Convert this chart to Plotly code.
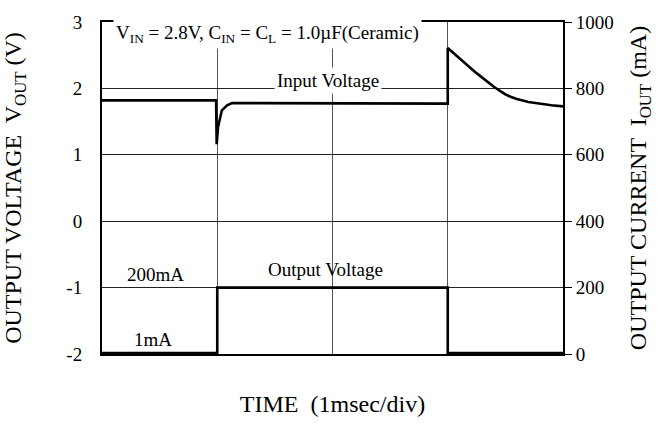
import plotly.graph_objects as go

# Upper trace (left axis, V)
vin_t = [0.0, 0.99, 0.995, 1.007, 1.04, 1.085, 1.128, 1.2, 2.0, 3.0, 3.0, 3.05, 3.1, 3.15, 3.2, 3.25, 3.3,
         3.35, 3.4, 3.45, 3.5, 3.55, 3.6, 3.7, 3.8, 3.9, 4.0]
vin_v = [1.82, 1.82, 1.16, 1.42, 1.67, 1.746, 1.78, 1.78, 1.78, 1.77, 2.61, 2.53, 2.455, 2.38, 2.305, 2.23, 2.16,
         2.09, 2.025, 1.965, 1.91, 1.87, 1.84, 1.795, 1.765, 1.745, 1.73]

# Load current (right axis, mA)
iout_t = [0.0, 1.0, 1.0, 3.0, 3.0, 4.0]
iout_ma = [3, 3, 200, 200, 3, 3]

left_ticks = [-2, -1, 0, 1, 2, 3]
left_labels = ["-2", "-1", "0", "1", "2", "3"]
right_ticks = [0, 200, 400, 600, 800, 1000]
right_labels = ["0", "200", "400", "600", "800", "1000"]
x_grid = [0, 1, 2, 3, 4]

FONT = "Liberation Serif, Times New Roman, serif"

fig = go.Figure()
fig.add_trace(go.Scatter(x=vin_t, y=vin_v, mode="lines",
                         line=dict(color="black", width=2.6), yaxis="y", showlegend=False))
fig.add_trace(go.Scatter(x=iout_t, y=iout_ma, mode="lines",
                         line=dict(color="black", width=2.6), yaxis="y2", showlegend=False))

fig.update_layout(
    width=661, height=424,
    margin=dict(l=102, r=98, t=15, b=70),
    paper_bgcolor="white", plot_bgcolor="white",
    font=dict(family=FONT, size=19, color="black"),
    xaxis=dict(range=[0, 4], tickvals=x_grid, showticklabels=False, ticks="",
               showgrid=True, gridcolor="#555", gridwidth=1, zeroline=False,
               showline=True, linecolor="black", linewidth=2, mirror=True,
               title=dict(text="TIME  (1msec/div)", standoff=40, font=dict(size=24))),
    yaxis=dict(range=[-2, 3], tickvals=left_ticks, ticktext=left_labels, ticks="",
               showgrid=True, gridcolor="#222", gridwidth=1, zeroline=False,
               showline=True, linecolor="black", linewidth=2, mirror=True,
               ticklabelstandoff=14,
               title=dict(text="OUTPUT VOLTAGE  V<sub>OUT</sub> (V)", standoff=38, font=dict(size=24))),
    yaxis2=dict(range=[0, 1000], tickvals=right_ticks, ticktext=right_labels, overlaying="y",
                side="right", ticks="outside", ticklen=8, tickcolor="black",
                showgrid=False, zeroline=False, showline=False,
                title=dict(text="OUTPUT CURRENT  I<sub>OUT</sub> (mA)", standoff=16, font=dict(size=24))),
)

ann = [
    dict(text="V<sub>IN</sub> = 2.8V, C<sub>IN</sub> = C<sub>L</sub> = 1.0µF(Ceramic)", x=0.095, y=2.82,
         xanchor="left", bg="white"),
    dict(text="Input Voltage", x=1.96, y=2.115, xanchor="center", bg="white"),
    dict(text="Output Voltage", x=1.94, y=-0.73, xanchor="center", bg="rgba(0,0,0,0)"),
    dict(text="200mA", x=0.46, y=-0.8, xanchor="center", bg="rgba(0,0,0,0)"),
    dict(text="1mA", x=0.44, y=-1.78, xanchor="center", bg="rgba(0,0,0,0)"),
]
for a in ann:
    fig.add_annotation(x=a["x"], y=a["y"], xref="x", yref="y", text=a["text"], showarrow=False,
                       xanchor=a["xanchor"], yanchor="middle", bgcolor=a["bg"],
                       borderpad=2, font=dict(family=FONT, size=19, color="black"))

fig.write_html("out.html")
